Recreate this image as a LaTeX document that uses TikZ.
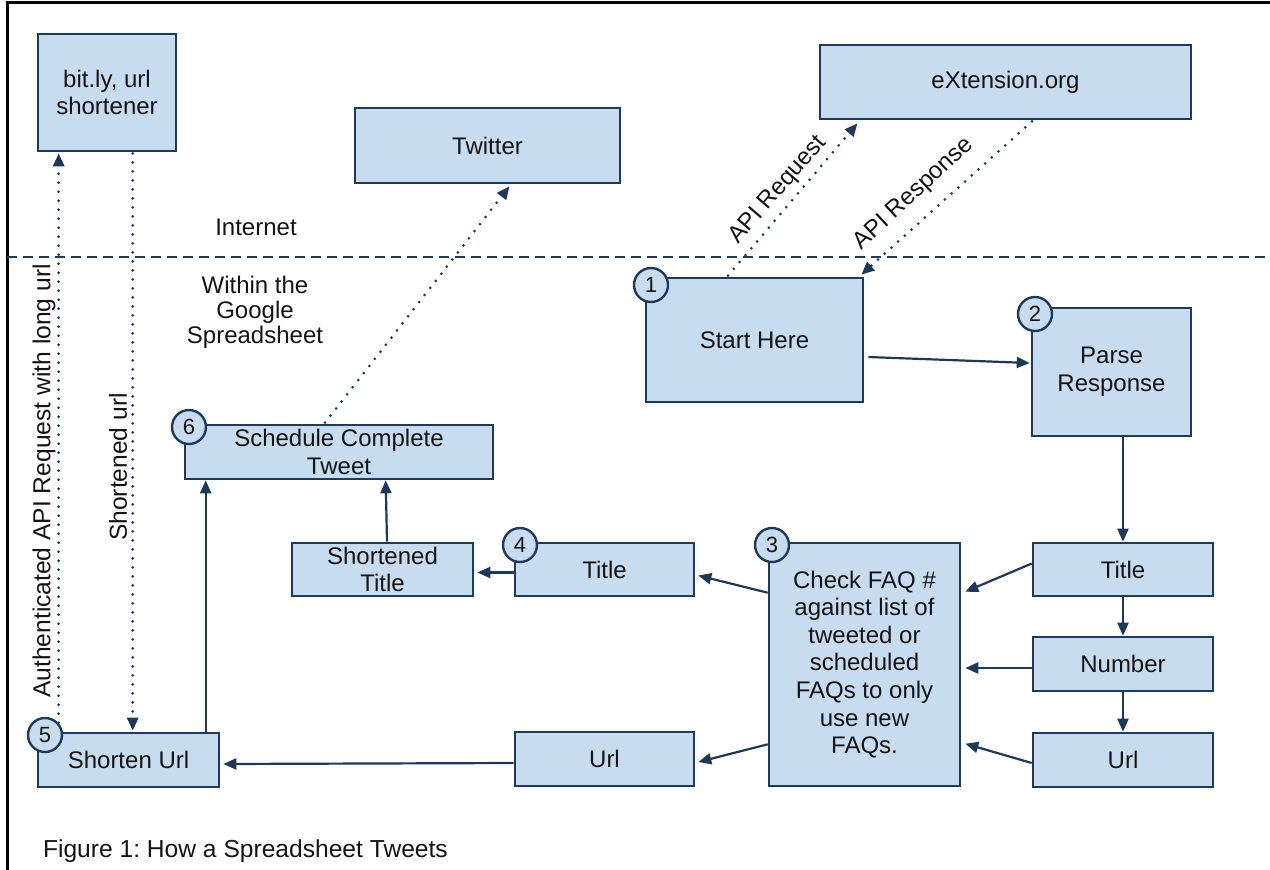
\documentclass[tikz,border=0pt]{standalone}
\usepackage{fontspec}
\setmainfont{Liberation Sans}
\usetikzlibrary{arrows.meta,calc}
\definecolor{boxfill}{RGB}{200,220,240}
\definecolor{boxline}{RGB}{30,58,92}
\definecolor{arrcol}{RGB}{28,56,90}
\definecolor{txt}{RGB}{20,20,20}
\frenchspacing
\begin{document}
\begin{tikzpicture}[x=0.5pt,y=-0.5pt,
  font=\fontsize{12}{13.8}\selectfont, text=txt,
  box/.style={draw=boxline, fill=boxfill, line width=1.3pt, align=center, inner sep=1pt},
  num/.style={circle, draw=boxline, fill=boxfill, line width=1.2pt, minimum size=17pt, inner sep=0pt, font=\fontsize{11}{13}\selectfont},
  arr/.style={draw=arrcol, line width=1.1pt, -{Triangle[length=6.5pt,width=5.5pt]}},
  dots/.style={draw=arrcol, line width=1.5pt, line cap=round, dash pattern=on 0pt off 4.5pt},
  dotarr/.style={dots, -{Triangle[length=6.5pt,width=5.5pt]}},
  sep/.style={draw=boxline, line width=1.3pt, dash pattern=on 5pt off 3pt}
]
\useasboundingbox (0,0) rectangle (1270,869);
% frame
\coordinate (ftr) at (1290,2);
\coordinate (ftl) at (7,2);
\coordinate (fbl) at (7,890);
\draw[line width=1.5pt, black] (ftr) -- (ftl) -- (fbl);
% separator
\coordinate (dl) at (7,257);
\coordinate (dr) at (1290,257);
\draw[sep] (dl) -- (dr);

% boxes
\node[box, minimum width=69pt, minimum height=58.5pt] (bitly) at (107,92.5) {bit.ly, url\\shortener};
\node[box, minimum width=132.5pt, minimum height=37.5pt] (twitter) at (487.5,145.5) {Twitter};
\node[box, minimum width=185.5pt, minimum height=37pt] (ext) at (1005.5,82) {eXtension.org};
\node[box, minimum width=108.5pt, minimum height=62pt] (box1) at (754.5,340) {Start Here};
\node[box, minimum width=79.5pt, minimum height=64pt] (box2) at (1111.5,372) {Parse\\Response};
\node[box, minimum width=90pt, minimum height=26.5pt] (titleR) at (1123,569.5) {Title};
\node[box, minimum width=90pt, minimum height=27pt] (number) at (1123,664) {Number};
\node[box, minimum width=90pt, minimum height=27pt] (urlR) at (1123,760) {Url};
\node[box, minimum width=95.5pt, minimum height=121.5pt] (box3) at (864.5,664.5) {Check FAQ \#\\against list of\\tweeted or\\scheduled\\FAQs to only\\use new\\FAQs.};
\node[box, minimum width=89.5pt, minimum height=26.5pt] (title4) at (604.5,569.5) {Title};
\node[box, minimum width=89.5pt, minimum height=27pt] (urlM) at (604.5,759) {Url};
\node[box, minimum width=90.5pt, minimum height=26.5pt] (shortT) at (382.5,569.5) {Shortened\\Title};
\node[box, minimum width=90.5pt, minimum height=27pt] (shorten) at (128.5,760) {Shorten Url};
\node[box, minimum width=154pt, minimum height=27pt] (sched) at (339,452) {Schedule Complete\\Tweet};

% dotted connectors
\draw[dotarr] ($(sched.north)+(-14,-1)$) -- ($(twitter.south)+(22,2)$);
\draw[dotarr] ($(box1.north)+(-26.5,-1)$) -- ($(ext.south)+(-148,3)$);
\draw[dotarr] ($(ext.south)+(26.5,1)$) -- ($(box1.north east)+(-3,-2)$);
\draw[dotarr] ($(shorten.north west)+(22,0)$) -- ($(bitly.south west)+(22,1)$);
\draw[dotarr] ($(bitly.south west)+(96,1)$) -- ($(shorten.north west)+(96,-1)$);

% solid connectors
\draw[arr] ($(box1.east)+(4,17)$) -- ($(box2.west)+(-1,-9)$);
\draw[arr] (box2.south -| titleR.north) -- (titleR.north);
\draw[arr] (titleR.south) -- (number.north);
\draw[arr] (number.south) -- (urlR.north);
\draw[arr] ($(titleR.west)+(0,-6)$) -- ($(box3.north east)+(4,50)$);
\draw[arr] ($(number.west)+(0,4)$) -- ($(box3.east |- number.west)+(4,4)$);
\draw[arr] ($(urlR.west)+(0,3)$) -- ($(box3.north east)+(4,202)$);
\draw[arr] ($(box3.north west)+(0,51)$) -- ($(title4.east)+(3,6)$);
\draw[arr] ($(title4.west)+(0,3)$) -- ($(shortT.east)+(3,3)$);
\draw[arr] ($(box3.south west)+(0,-43)$) -- ($(urlM.east)+(3,3)$);
\draw[arr] ($(urlM.west)+(0,4)$) -- ($(shorten.east)+(3,4)$);
\draw[arr] ($(shorten.north west)+(169,0)$) -- ($(sched.south west)+(22,0)$);
\draw[arr] ($(shortT.north)+(4.5,0)$) -- ($(sched.south west)+(202,0)$);

% number circles
\node[num] (n1) at (651,285) {1};
\node[num] (n2) at (1035,314) {2};
\node[num] (n3) at (772,545) {3};
\node[num] (n4) at (520,545) {4};
\node[num] (n5) at (45,735) {5};
\node[num] (n6) at (189,427) {6};

% free texts
\node (internet) at (256,227) {Internet};
\node[align=center, font=\fontsize{12}{12.5}\selectfont] (within) at (255,312) {Within the\\Google\\Spreadsheet};
\node[rotate=90, font=\fontsize{12.3}{14}\selectfont] (auth) at (44,481) {Authenticated API Request with long url};
\node[rotate=90, font=\fontsize{12.3}{14}\selectfont] (shurl) at (118,467) {Shortened url};
\node[rotate=49] (apireq) at (778,190) {API Request};
\node[rotate=43] (apires) at (914,194) {API Response};
\node[anchor=west, font=\fontsize{12.3}{14}\selectfont] (cap) at (36,851) {Figure 1: How a Spreadsheet Tweets};
\end{tikzpicture}
\end{document}
